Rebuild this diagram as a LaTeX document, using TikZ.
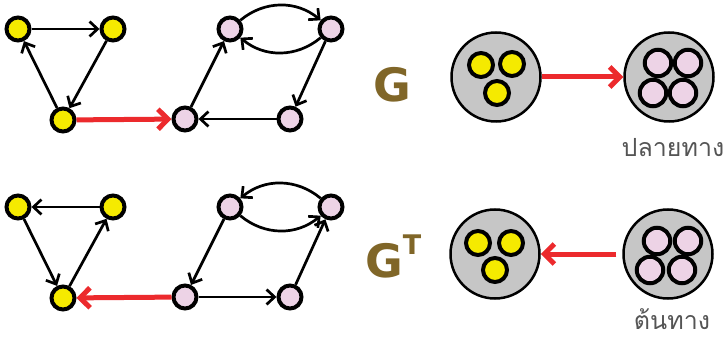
\documentclass[tikz,border=0pt]{standalone}
\usepackage{fontspec}
\newfontfamily\thaifont[Script=Thai]{Loma}
\newfontfamily\gfont{DejaVu Sans}
\usetikzlibrary{arrows.meta}
\definecolor{yel}{HTML}{F5EA00}
\definecolor{pnk}{HTML}{EDD3E6}
\definecolor{gry}{HTML}{C6C6C6}
\definecolor{redA}{HTML}{EC2A2D}
\definecolor{olive}{HTML}{806628}
\definecolor{txtgray}{HTML}{555555}
\tikzset{
  vy/.style={circle, draw=black, line width=4pt, fill=yel, minimum size=23pt, inner sep=0pt},
  vp/.style={circle, draw=black, line width=4pt, fill=pnk, minimum size=23pt, inner sep=0pt},
  iy/.style={circle, draw=black, line width=4pt, fill=yel, minimum size=24pt, inner sep=0pt},
  ip/.style={circle, draw=black, line width=4pt, fill=pnk, minimum size=26.5pt, inner sep=0pt},
  big/.style={circle, draw=black, line width=2.5pt, fill=gry, minimum size=89pt, inner sep=0pt},
  edg/.style={-{Straight Barb[length=8pt,width=15pt]}, line width=2.7pt, draw=black},
  redge/.style={-{Straight Barb[length=10pt,width=20pt]}, line width=5pt, draw=redA},
  glab/.style={text=olive, font=\gfont\bfseries\fontsize{46}{46}\selectfont, inner sep=0pt, anchor=base},
  tlab/.style={text=olive, font=\gfont\bfseries\fontsize{27}{27}\selectfont, inner sep=0pt, anchor=base},
  thlab/.style={text=txtgray, font=\thaifont\fontsize{25}{25}\selectfont, inner sep=0pt, anchor=base, text depth=0pt},
}
\begin{document}
\begin{tikzpicture}[x=1pt,y=-1pt]
\useasboundingbox (0,0) rectangle (728,339);
% ---------- top graph G ----------
\node[vy] (a1) at (18,29) {};
\node[vy] (a2) at (113,29) {};
\node[vy] (a3) at (63,120) {};
\node[vp] (b1) at (185,119) {};
\node[vp] (b2) at (230,29) {};
\node[vp] (b3) at (331,29) {};
\node[vp] (b4) at (290,119) {};
\draw[edg] (a1) -- (a2);
\draw[edg] (a2) -- (a3);
\draw[edg] (a3) -- (a1);
\draw[edg] (b1) -- (b2);
\draw[edg] (b2) to[bend left=40] (b3);
\draw[edg] (b3) to[bend left=40] (b2);
\draw[edg] (b3) -- (b4);
\draw[edg] (b4) -- (b1);
\draw[redge] (a3) -- (b1);
% ---------- bottom graph G^T ----------
\node[vy] (c1) at (18,207) {};
\node[vy] (c2) at (113,207) {};
\node[vy] (c3) at (63,298) {};
\node[vp] (d1) at (185,297) {};
\node[vp] (d2) at (230,207) {};
\node[vp] (d3) at (331,207) {};
\node[vp] (d4) at (290,297) {};
\draw[edg] (c2) -- (c1);
\draw[edg] (c1) -- (c3);
\draw[edg] (c3) -- (c2);
\draw[edg] (d2) -- (d1);
\draw[edg] (d1) -- (d4);
\draw[edg] (d4) -- (d3);
\draw[edg] (d3) to[bend right=40] (d2);
\draw[edg] (d2) to[bend right=40] (d3);
\draw[redge] (d1) -- (c3);
% ---------- labels ----------
\node[glab] (gl) at (392,102) {G};
\node[glab] (gtl) at (384,277) {G};
\node[tlab] (tl) at (412,254) {T};
% ---------- component graph top ----------
\node[big] (p1) at (496,77) {};
\node[iy] (p1a) at (481,65) {};
\node[iy] (p1b) at (512,64) {};
\node[iy] (p1c) at (497,93) {};
\node[big] (q1) at (669,77) {};
\node[ip] (q1a) at (658,63) {};
\node[ip] (q1b) at (688,63) {};
\node[ip] (q1c) at (653,93) {};
\node[ip] (q1d) at (683,93) {};
\draw[redge] (p1) -- (q1);
\node[thlab] (sink) at (673,157) {ปลายทาง};
% ---------- component graph bottom ----------
\node[big] (p2) at (495,254) {};
\node[iy] (p2a) at (478,243) {};
\node[iy] (p2b) at (511,243) {};
\node[iy] (p2c) at (495,270) {};
\node[big] (q2) at (668,254) {};
\node[ip] (q2a) at (657,241) {};
\node[ip] (q2b) at (688,241) {};
\node[ip] (q2c) at (650,270) {};
\node[ip] (q2d) at (682,270) {};
\draw[redge, shorten <=6pt] (q2) -- (p2);
\node[thlab] (src) at (672,329) {ต้นทาง};
\end{tikzpicture}
\end{document}
